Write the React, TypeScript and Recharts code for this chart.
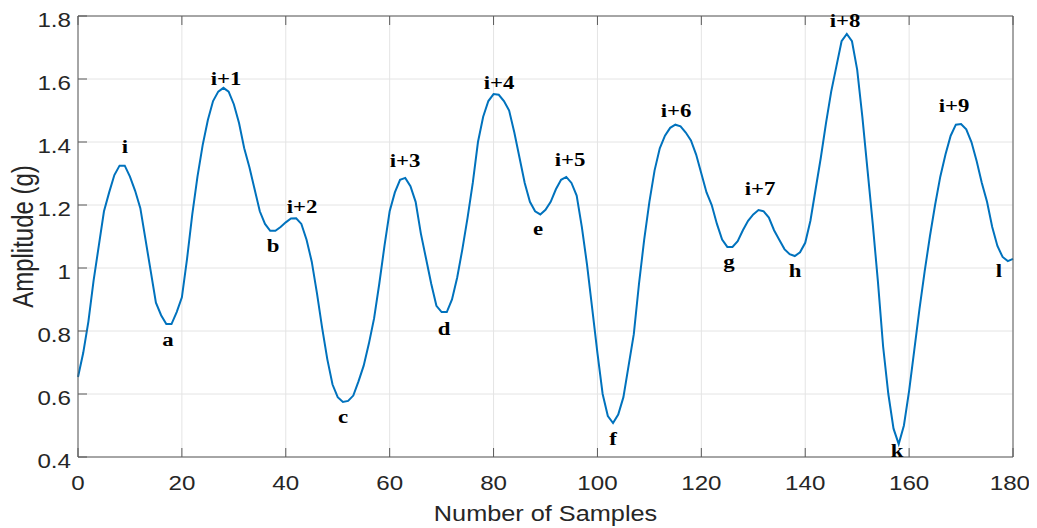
import React from 'react';
import { ComposedChart, Line, Scatter, XAxis, YAxis, CartesianGrid } from 'recharts';

// Amplitude (g) at each sample 0..180
const amplitude = [
  0.654, 0.73, 0.83, 0.96, 1.07, 1.18, 1.24, 1.295, 1.325, 1.325,
  1.29, 1.245, 1.19, 1.09, 0.99, 0.89, 0.85, 0.822, 0.822, 0.86,
  0.907, 1.03, 1.17, 1.29, 1.39, 1.47, 1.53, 1.56, 1.572, 1.56,
  1.52, 1.46, 1.38, 1.32, 1.25, 1.18, 1.14, 1.118, 1.118, 1.13,
  1.145, 1.157, 1.158, 1.14, 1.09, 1.02, 0.92, 0.81, 0.71, 0.63,
  0.59, 0.575, 0.578, 0.595, 0.64, 0.69, 0.76, 0.84, 0.95, 1.07,
  1.18, 1.24, 1.28, 1.286, 1.26, 1.21, 1.11, 1.03, 0.95, 0.88,
  0.86, 0.86, 0.9, 0.97, 1.06, 1.16, 1.27, 1.4, 1.48, 1.53,
  1.552, 1.55, 1.53, 1.5, 1.43, 1.35, 1.27, 1.21, 1.18, 1.17,
  1.185, 1.21, 1.25, 1.28, 1.289, 1.27, 1.23, 1.13, 1.01, 0.87,
  0.73, 0.6, 0.53, 0.508, 0.535, 0.59, 0.69, 0.79, 0.95, 1.09,
  1.21, 1.31, 1.38, 1.42, 1.445, 1.455, 1.45, 1.43, 1.405, 1.36,
  1.3, 1.24, 1.2, 1.14, 1.09, 1.067, 1.067, 1.085, 1.12, 1.15,
  1.17, 1.184, 1.18, 1.16, 1.12, 1.09, 1.06, 1.044, 1.038, 1.05,
  1.08, 1.15, 1.25, 1.35, 1.46, 1.56, 1.64, 1.72, 1.743, 1.72,
  1.63, 1.48, 1.31, 1.14, 0.956, 0.75, 0.6, 0.49, 0.441, 0.5,
  0.61, 0.74, 0.87, 0.99, 1.1, 1.2, 1.29, 1.36, 1.42, 1.455,
  1.457, 1.44, 1.4, 1.34, 1.27, 1.21, 1.13, 1.07, 1.035, 1.022,
  1.029,
];
const sampleIndex = amplitude.map((_, i) => i);

const xTicks = [0, 20, 40, 60, 80, 100, 120, 140, 160, 180];
const yTicks = [0.4, 0.6, 0.8, 1, 1.2, 1.4, 1.6, 1.8];

// Annotation labels (text baseline position in data units)
const peakLabels = ['i', 'a', 'i+1', 'b', 'i+2', 'c', 'i+3', 'd', 'i+4', 'e', 'i+5', 'f', 'i+6', 'g', 'i+7', 'h', 'i+8', 'k', 'i+9', 'l'];
const labelSample = [9.05, 17.33, 28.5, 37.54, 43.12, 51.02, 62.95, 70.46, 81.05, 88.56, 94.72, 103.0, 115.13, 125.33, 131.3, 138.03, 147.66, 157.67, 168.64, 177.3];
const labelAmplitude = [1.364, 0.752, 1.581, 1.052, 1.176, 0.507, 1.322, 0.787, 1.567, 1.105, 1.325, 0.438, 1.48, 1.001, 1.232, 0.97, 1.766, 0.401, 1.494, 0.972];

const data = sampleIndex.map((s, i) => ({ s, v: amplitude[i] }));
const annotations = peakLabels.map((text, i) => ({ s: labelSample[i], v: labelAmplitude[i], text }));

const CHART_W = 1021;
const CHART_H = 520;
const AXIS = '#5a5a5a';
const TEXT = '#262626';
const GRID = '#e4e4e4';
const LINE = '#0072BD';
const TICK_LEN = 9;
const SX = 1.15;
const TICK_FONT = 21;
const SANS = "'Liberation Sans', Arial, sans-serif";
const SERIF = "'Liberation Serif', 'Times New Roman', Times, serif";

const fmt = (v: number) => Number(v.toFixed(1)).toString();

const BottomTick = (props: any) => {
  const { x, y, payload } = props;
  const label = String(payload.value);
  // keep the label inside the drawing surface
  const half = (label.length * 0.5 * TICK_FONT * SX) / 2;
  const tx = Math.min(x, CHART_W - half - 1);
  return (
    <g>
      <line x1={x} y1={y} x2={x} y2={y - TICK_LEN} stroke={AXIS} strokeWidth={1} />
      <text transform={`translate(${tx},${y + 33}) scale(${SX},1)`} textAnchor="middle" style={{ fontFamily: SANS, fontSize: TICK_FONT }} fill={TEXT}>
        {label}
      </text>
    </g>
  );
};

const TopTick = (props: any) => {
  const { x, y } = props;
  return <line x1={x} y1={y} x2={x} y2={y + TICK_LEN} stroke={AXIS} strokeWidth={1} />;
};

const LeftTick = (props: any) => {
  const { x, y, payload } = props;
  return (
    <g>
      <line x1={x} y1={y} x2={x + TICK_LEN} y2={y} stroke={AXIS} strokeWidth={1} />
      <text transform={`translate(${x - 7},${y + 11}) scale(${SX},1)`} textAnchor="end" style={{ fontFamily: SANS, fontSize: TICK_FONT }} fill={TEXT}>
        {fmt(payload.value)}
      </text>
    </g>
  );
};

const RightTick = (props: any) => {
  const { x, y } = props;
  return <line x1={x} y1={y} x2={x - TICK_LEN} y2={y} stroke={AXIS} strokeWidth={1} />;
};

const XTitle = (props: any) => {
  const vb = props.viewBox || {};
  const cx = vb.x + vb.width / 2;
  const by = vb.y + 63.5;
  return (
    <text transform={`translate(${cx},${by}) scale(${SX},1)`} textAnchor="middle" style={{ fontFamily: SANS, fontSize: 22 }} fill={TEXT}>
      Number of Samples
    </text>
  );
};

const YTitle = (props: any) => {
  const vb = props.viewBox || {};
  const cy = vb.y + vb.height / 2;
  return (
    <text transform={`translate(25,${cy}) scale(1.2,1) rotate(-90)`} textAnchor="middle" style={{ fontFamily: SANS, fontSize: 24 }} fill={TEXT}>
      Amplitude (g)
    </text>
  );
};

const AnnotationShape = (props: any) => {
  const { cx, cy, payload } = props;
  return (
    <text transform={`translate(${cx},${cy}) scale(1.2,1)`} textAnchor="middle" style={{ fontFamily: SERIF, fontWeight: 700, fontSize: 19 }} fill="#000">
      {payload.text}
    </text>
  );
};

export default function App() {
  return (
    <div style={{ width: CHART_W, height: CHART_H }}>
      <ComposedChart width={CHART_W} height={CHART_H} data={data} margin={{ top: 0, right: 0, bottom: 0, left: 0 }}>
        <CartesianGrid stroke={GRID} strokeWidth={1} />
        <XAxis
          dataKey="s"
          type="number"
          domain={[0, 180]}
          ticks={xTicks}
          interval={0}
          height={71}
          tickSize={0}
          tickMargin={0}
          tickLine={false}
          axisLine={{ stroke: AXIS, strokeWidth: 1 }}
          tick={BottomTick}
          label={XTitle}
        />
        <XAxis
          xAxisId="top"
          orientation="top"
          type="number"
          domain={[0, 180]}
          ticks={xTicks}
          interval={0}
          height={8}
          tickSize={0}
          tickMargin={0}
          tickLine={false}
          axisLine={{ stroke: AXIS, strokeWidth: 1 }}
          tick={TopTick}
        />
        <YAxis
          type="number"
          domain={[0.4, 1.8]}
          ticks={yTicks}
          interval={0}
          width={70}
          tickSize={0}
          tickMargin={0}
          tickLine={false}
          axisLine={{ stroke: AXIS, strokeWidth: 1 }}
          tick={LeftTick}
          label={YTitle}
        />
        <YAxis
          yAxisId="right"
          orientation="right"
          type="number"
          domain={[0.4, 1.8]}
          ticks={yTicks}
          interval={0}
          width={16}
          tickSize={0}
          tickMargin={0}
          tickLine={false}
          axisLine={{ stroke: AXIS, strokeWidth: 1 }}
          tick={RightTick}
        />
        <Line
          dataKey="v"
          type="linear"
          stroke={LINE}
          strokeWidth={2}
          dot={false}
          activeDot={false}
          isAnimationActive={false}
        />
        <Scatter data={annotations} dataKey="v" shape={AnnotationShape} isAnimationActive={false} />
      </ComposedChart>
    </div>
  );
}
